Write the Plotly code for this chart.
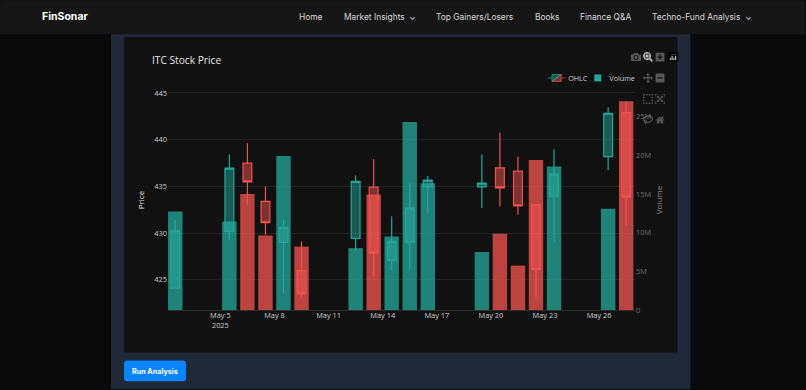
import plotly.graph_objects as go

W, H = 806, 390
PLOT_L, PLOT_R, PLOT_T, PLOT_B = 168, 635.5, 90, 310.5

dates = ["2025-05-02 12:00", "2025-05-05 12:00", "2025-05-06 12:00", "2025-05-07 12:00", "2025-05-08 12:00", "2025-05-09 12:00",
         "2025-05-12 12:00", "2025-05-13 12:00", "2025-05-14 12:00", "2025-05-15 12:00", "2025-05-16 12:00",
         "2025-05-19 12:00", "2025-05-20 12:00", "2025-05-21 12:00", "2025-05-22 12:00", "2025-05-23 12:00",
         "2025-05-26 12:00", "2025-05-27 12:00"]
opens = [424.1, 430.17, 437.48, 433.38, 429.0, 425.96, 429.42, 434.91, 427.07, 429.03, 434.95,
         434.95, 436.98, 436.62, 433.02, 433.91, 438.19, 442.9]
highs = [431.4, 438.44, 439.62, 434.98, 431.4, 429.1, 436.16, 437.9, 431.77, 435.35, 436.1,
         438.44, 440.76, 438.19, 433.02, 438.98, 443.47, 444.1]
lows = [424.1, 429.28, 433.02, 429.8, 423.6, 423.0, 428.14, 425.36, 425.9, 426.0, 432.17,
        432.67, 432.84, 431.95, 422.93, 429.0, 436.76, 430.81]
closes = [430.24, 436.95, 435.48, 431.1, 430.6, 423.5, 435.52, 427.85, 429.1, 432.67, 435.66,
          435.34, 434.84, 432.91, 426.07, 436.3, 442.83, 433.84]
volumes = [12.75e6, 11.46e6, 15.0e6, 9.65e6, 19.9e6, 8.2e6, 8.0e6, 14.95e6, 9.5e6, 24.3e6, 16.4e6,
           7.5e6, 9.87e6, 5.74e6, 19.4e6, 18.55e6, 13.1e6, 27.0e6]

UP, DOWN = "#26a69a", "#ef5350"
vol_colors = [UP if c >= o else DOWN for o, c in zip(opens, closes)]

nav_items = [("Home", 297), ("Market Insights", 342), ("⌄", 407), ("Top Gainers/Losers", 434), ("Books", 533),
             ("Finance Q&A", 578), ("Techno-Fund Analysis", 651), ("⌄", 744)]


def px(x):
    return (x - PLOT_L) / (PLOT_R - PLOT_L)


def py(y):
    return (PLOT_B - y) / (PLOT_B - PLOT_T)


def rect(x0, y0, x1, y1, color):
    return dict(type="rect", xref="paper", yref="paper", x0=px(x0), x1=px(x1), y0=py(y1), y1=py(y0),
                line_width=0, fillcolor=color, layer="below")


def round_rect(x0, y0, x1, y1, r, color):
    pts = [("M", x0 + r, y0), ("L", x1 - r, y0), ("Q", x1, y0, x1, y0 + r), ("L", x1, y1 - r),
           ("Q", x1, y1, x1 - r, y1), ("L", x0 + r, y1), ("Q", x0, y1, x0, y1 - r), ("L", x0, y0 + r),
           ("Q", x0, y0, x0 + r, y0)]
    d = ""
    for p in pts:
        coords = p[1:]
        d += p[0] + " ".join(f"{px(coords[i]):.5f},{py(coords[i + 1]):.5f}" for i in range(0, len(coords), 2)) + " "
    return dict(type="path", xref="paper", yref="paper", path=d + "Z", line_width=0, fillcolor=color, layer="below")


fig = go.Figure()
fig.add_trace(go.Candlestick(x=dates, open=opens, high=highs, low=lows, close=closes, name="OHLC",
                             increasing=dict(line=dict(color=UP, width=1.2)),
                             decreasing=dict(line=dict(color=DOWN, width=1.2))))
fig.add_trace(go.Bar(x=dates, y=volumes, name="Volume", yaxis="y2",
                     marker=dict(color=vol_colors, opacity=0.77, line_width=0)))

shapes = [
    rect(0, 0, W, 34, "#161616"),
    rect(111, 34, 691, H, "#1f2937"),
    rect(124, 37, 678, 353, "#111111"),
    round_rect(124, 361, 186, 382, 3, "#0a84ff"),
]
annotations = [dict(text="<b>FinSonar</b>", x=px(40), y=py(16.5), xref="paper", yref="paper", xanchor="left",
                    yanchor="middle", showarrow=False, font=dict(family="Inter", size=10.5, color="#ffffff")),
               dict(text="<b>Run Analysis</b>", x=px(155), y=py(372), xref="paper", yref="paper", xanchor="center",
                    yanchor="middle", showarrow=False, font=dict(family="Inter", size=7.2, color="#ffffff"))]
for label, lx in nav_items:
    annotations.append(dict(text=label, x=px(lx), y=py(16.5), xref="paper", yref="paper", xanchor="left",
                            yanchor="middle", showarrow=False, font=dict(family="Inter", size=8.4, color="#d8d8d8")))

TICK = 7.4
fig.update_layout(
    width=W, height=H, template="plotly_dark",
    paper_bgcolor="#0a0a0a", plot_bgcolor="rgba(0,0,0,0)",
    margin=dict(l=PLOT_L, r=W - PLOT_R, t=PLOT_T, b=H - PLOT_B, pad=0, autoexpand=False),
    font=dict(family="Open Sans, verdana, arial, sans-serif", size=8, color="#d0d0d0"),
    title=dict(text="ITC Stock Price", x=152 / W, xref="container", xanchor="left", y=1 - 60 / H, yref="container",
               yanchor="middle", font=dict(size=10.2, color="#e6e6e6")),
    xaxis=dict(type="date", range=["2025-05-02 02:20", "2025-05-27 23:45"], tick0="2025-05-05", dtick=3 * 86400000,
               rangeslider=dict(visible=False), showgrid=False, zeroline=False, ticks="", showline=False,
               tickfont=dict(size=TICK, color="#cfcfcf")),
    yaxis=dict(title=dict(text="Price", standoff=8, font=dict(size=8, color="#e6e6e6")), range=[421.75, 445.32],
               tickvals=[425, 430, 435, 440, 445], gridcolor="#242424", zeroline=False,
               tickfont=dict(size=TICK, color="#cfcfcf"), automargin=False),
    yaxis2=dict(title=dict(text="Volume", standoff=6, font=dict(size=8, color="#8a8a8a")), overlaying="y", side="right",
                range=[0, 28.45e6], tickvals=[0, 5e6, 10e6, 15e6, 20e6, 25e6],
                ticktext=["0", "5M", "10M", "15M", "20M", "25M"], showgrid=False, zeroline=True,
                zerolinecolor="#2c2c2c", zerolinewidth=1, tickfont=dict(size=TICK, color="#6f6f6f"), automargin=False),
    legend=dict(orientation="h", x=1, xanchor="right", y=py(77), yanchor="middle", entrywidth=26,
                entrywidthmode="pixels", bgcolor="rgba(0,0,0,0)", font=dict(size=12.4, color="#d0d0d0")),
    modebar=dict(bgcolor="rgba(0,0,0,0)", color="rgba(255,255,255,0.3)", activecolor="rgba(255,255,255,0.7)"),
    shapes=shapes, annotations=annotations, showlegend=True, dragmode="zoom", boxgap=0.3, boxgroupgap=0.3,
)

post = """
var s = document.createElement('style');
s.textContent = 'html,body{margin:0;padding:0;overflow:hidden;background:#0a0a0a}'
 + '.legend{transform:translate(545px,69.5px) scale(0.58) !important;clip-path:none !important}'
 + '.legend *{clip-path:none !important}'
 + '.modebar{top:46px !important;right:127px !important}'
 + '.modebar-group{padding-left:0 !important;margin:0 !important;display:inline-block !important;vertical-align:top;background:transparent !important}'
 + '.modebar-btn{display:block !important;font-size:10px !important;height:21px !important;padding:0 1.2px !important}';
document.head.appendChild(s);
"""
fig.write_html("out.html", config=dict(displayModeBar=True, responsive=False), post_script=post)
